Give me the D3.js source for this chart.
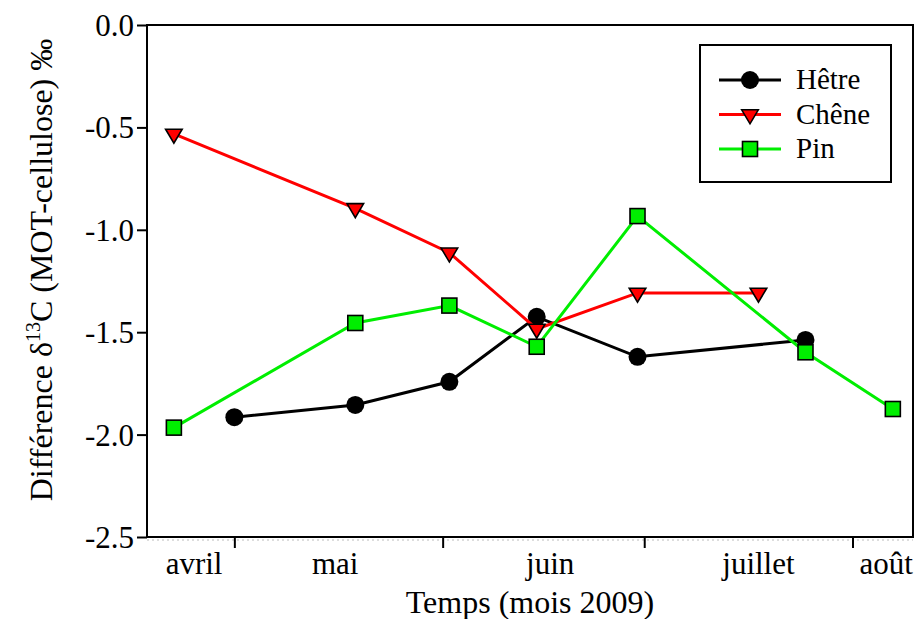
<!DOCTYPE html>
<html>
<head>
<meta charset="utf-8">
<script src="https://cdn.jsdelivr.net/npm/d3@7"></script>
<style>
  html, body { margin: 0; padding: 0; background: #fff; }
  svg { display: block; }
  text { font-family: "Liberation Serif", "Times New Roman", serif; fill: #000; }
</style>
</head>
<body>
<svg id="chart" width="918" height="619"></svg>
<script>
// ---- data ----
const seriesNames = ["Hêtre", "Chêne", "Pin"];
const hetreDates  = ["2009-05-01","2009-05-19","2009-06-02","2009-06-15","2009-06-30","2009-07-25"];
const hetreValues = [-1.915, -1.855, -1.742, -1.425, -1.620, -1.538];
const cheneDates  = ["2009-04-22","2009-05-19","2009-06-02","2009-06-15","2009-06-30","2009-07-18"];
const cheneValues = [-0.532, -0.895, -1.112, -1.484, -1.308, -1.308];
const pinDates    = ["2009-04-22","2009-05-19","2009-06-02","2009-06-15","2009-06-30","2009-07-25","2009-08-07"];
const pinValues   = [-1.966, -1.455, -1.370, -1.571, -0.933, -1.598, -1.875];
const monthLabels = ["avril", "mai", "juin", "juillet", "août"];
const monthLabelDates = ["2009-04-25","2009-05-16","2009-06-17","2009-07-18","2009-08-06"];
const yTicks = [0, -0.5, -1.0, -1.5, -2.0, -2.5];

(function () {
// ---- layout ----
const svg = d3.select("#chart");
const mL = 147, mR = 913, mT = 25, mB = 537;
const parse = d3.utcParse("%Y-%m-%d");
const FONT = "Liberation Serif";

const x = d3.scaleUtc()
  .domain([parse("2009-04-18"), parse("2009-08-10")])
  .range([mL, mR]);
const y = d3.scaleLinear().domain([-2.5, 0]).range([mB, mT]);

// faint dotted line below axis (as in reference)
svg.append("line")
  .attr("x1", mL).attr("x2", mR)
  .attr("y1", mB + 3).attr("y2", mB + 3)
  .attr("stroke", "#bbb").attr("stroke-width", 1)
  .attr("stroke-dasharray", "2,3");

// Y axis
const yAxis = d3.axisLeft(y).tickValues(yTicks).tickSize(10).tickPadding(3)
  .tickFormat(d => d.toFixed(1));
const gy = svg.append("g").attr("transform", `translate(${mL},0)`).call(yAxis)
  .attr("font-family", FONT).attr("font-size", 31);
gy.select(".domain").remove();
gy.selectAll(".tick line").attr("stroke", "#000").attr("stroke-width", 2);
gy.selectAll(".tick text").attr("fill", "#000").attr("dy", "0.34em");

// X axis ticks at month starts
const xAxis = d3.axisBottom(x)
  .tickValues(d3.utcMonth.range(parse("2009-05-01"), parse("2009-08-02")))
  .tickSize(11).tickFormat("");
const gx = svg.append("g").attr("transform", `translate(0,${mB})`).call(xAxis);
gx.select(".domain").remove();
gx.selectAll(".tick line").attr("stroke", "#000").attr("stroke-width", 2);

// month labels
svg.append("g").selectAll("text")
  .data(monthLabels)
  .join("text")
  .attr("x", (d, i) => x(parse(monthLabelDates[i])))
  .attr("y", 574)
  .attr("text-anchor", "middle")
  .style("font-family", FONT)
  .style("font-size", "31px")
  .text(d => d);

// frame
svg.append("rect")
  .attr("x", mL).attr("y", mT)
  .attr("width", mR - mL).attr("height", mB - mT)
  .attr("fill", "none").attr("stroke", "#000").attr("stroke-width", 2);

// axis titles
svg.append("text")
  .attr("x", 530).attr("y", 613)
  .attr("text-anchor", "middle")
  .style("font-family", FONT)
  .style("font-size", "32px")
  .text("Temps (mois 2009)");

const yt = svg.append("text")
  .attr("transform", "translate(52,270) rotate(-90)")
  .attr("text-anchor", "middle")
  .style("font-family", FONT)
  .style("font-size", "32px");
yt.append("tspan").text("Différence δ");
yt.append("tspan").attr("dy", -12).style("font-size", "20px").text("13");
yt.append("tspan").attr("dy", 12).text("C (MOT-cellulose) ‰");

// series
const triPath = "M-8.3,-4.7L8.3,-4.7L0,9.3Z";
const series = [
  { name: seriesNames[0], dates: hetreDates, values: hetreValues, color: "#000000", marker: "circle" },
  { name: seriesNames[1], dates: cheneDates, values: cheneValues, color: "#ff0000", marker: "triangle" },
  { name: seriesNames[2], dates: pinDates,   values: pinValues,   color: "#00ee00", marker: "square" }
];

function drawMarker(g, type, color) {
  if (type === "circle") {
    g.append("circle").attr("r", 9).attr("fill", "#000");
  } else if (type === "triangle") {
    g.append("path").attr("d", triPath).attr("fill", color)
      .attr("stroke", "#000").attr("stroke-width", 1.6).attr("stroke-linejoin", "miter");
  } else {
    g.append("rect").attr("x", -7.5).attr("y", -7.5).attr("width", 15).attr("height", 15)
      .attr("fill", color).attr("stroke", "#000").attr("stroke-width", 1.6);
  }
}

const line = d3.line().x(d => x(d[0])).y(d => y(d[1]));
series.forEach(s => {
  const pts = s.dates.map((d, i) => [parse(d), s.values[i]]);
  svg.append("path").datum(pts)
    .attr("d", line)
    .attr("fill", "none").attr("stroke", s.color).attr("stroke-width", 3);
  pts.forEach(p => {
    const g = svg.append("g").attr("transform", `translate(${x(p[0])},${y(p[1])})`);
    drawMarker(g, s.marker, s.color);
  });
});

// legend
const lg = svg.append("g");
lg.append("rect").attr("x", 700).attr("y", 45).attr("width", 191).attr("height", 137)
  .attr("fill", "#fff").attr("stroke", "#000").attr("stroke-width", 2);
series.forEach((s, i) => {
  const yy = 80 + i * 34.5;
  lg.append("line").attr("x1", 719).attr("x2", 781).attr("y1", yy).attr("y2", yy)
    .attr("stroke", s.color).attr("stroke-width", 3);
  drawMarker(lg.append("g").attr("transform", `translate(750,${yy})`), s.marker, s.color);
  lg.append("text").attr("x", 796).attr("y", yy + 9)
    .style("font-family", FONT).style("font-size", "29px").text(s.name);
});
})();
</script>
</body>
</html>
